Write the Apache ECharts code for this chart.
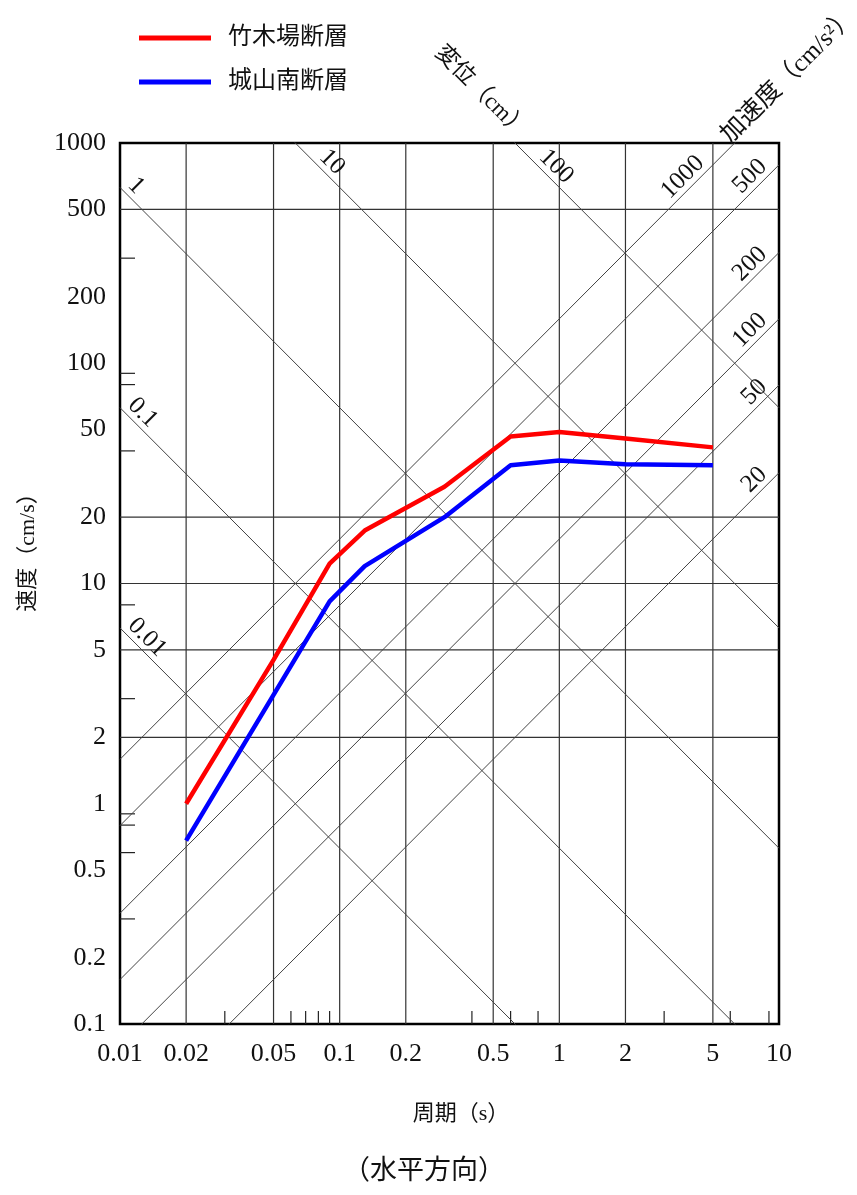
<!DOCTYPE html>
<html>
<head>
<meta charset="utf-8">
<script src="https://cdn.jsdelivr.net/npm/echarts@6/dist/echarts.min.js"></script>
<style>
  html, body { margin: 0; padding: 0; background: #fff; }
  #chart { width: 857px; height: 1195px; }
</style>
</head>
<body>
<div id="chart"></div>
<script>
// Period axis (s)
const periodLabels = [0.01, 0.02, 0.05, 0.1, 0.2, 0.5, 1, 2, 5, 10];
const periodGridLines = [0.02, 0.05, 0.1, 0.2, 0.5, 1, 2, 5];
const periodMinorTicks = [0.03, 0.06, 0.07, 0.08, 0.09, 0.4, 0.6, 0.8, 3, 6, 9];

// Velocity axis (cm/s)
const velocityLabels = [1000, 500, 200, 100, 50, 20, 10, 5, 2, 1, 0.5, 0.2, 0.1];
const velocityGridLines = [500, 20, 10, 5, 2];
const velocityMinorTicks = [300, 90, 80, 40, 8, 3, 0.9, 0.8, 0.6, 0.3];

// Diagonal scales of the tripartite chart
const displacementLines = [0.01, 0.1, 1, 10, 100];        // cm
const accelerationLines = [20, 50, 100, 200, 500, 1000];  // cm/s^2

// Velocity response spectra
const takekibaPeriods  = [0.02, 0.05, 0.09, 0.13, 0.3, 0.6, 1.0, 2.0, 5.0];
const takekibaVelocity = [1.0, 4.5, 12.3, 17.4, 27.5, 46.5, 48.7, 45.5, 41.5];
const jozanPeriods  = [0.02, 0.09, 0.13, 0.3, 0.6, 1.0, 2.0, 5.0];
const jozanVelocity = [0.68, 8.3, 12.0, 20.0, 34.4, 36.2, 34.8, 34.4];

const T_MIN = 0.01, T_MAX = 10, V_MIN = 0.1, V_MAX = 1000;
const TWO_PI = 2 * Math.PI;
const FONT_FAMILY = "'Liberation Serif', 'Noto Sans CJK JP', serif";
const LABEL_FONT = "26px " + FONT_FAMILY;
const DIAG_FONT = "25px " + FONT_FAMILY;
const INK = '#111';

function textEl(x, y, text, font, align, vAlign, rotation) {
  return {
    type: 'text', x: x, y: y, rotation: rotation || 0,
    style: {
      text: text, x: 0, y: 0, font: font, fill: INK,
      align: align, verticalAlign: vAlign,
      textAlign: align, textVerticalAlign: vAlign
    }
  };
}

function lineEl(p1, p2, stroke, width) {
  return {
    type: 'line',
    shape: { x1: p1[0], y1: p1[1], x2: p2[0], y2: p2[1] },
    style: { stroke: stroke, lineWidth: width }
  };
}

// Grid lines, inner ticks and axis labels, placed through the axis scales
function renderFrame(params, api) {
  const children = [];
  periodGridLines.forEach(function (t) {
    children.push(lineEl(api.coord([t, V_MAX]), api.coord([t, V_MIN]), '#333', 1.2));
  });
  velocityGridLines.forEach(function (v) {
    children.push(lineEl(api.coord([T_MIN, v]), api.coord([T_MAX, v]), '#333', 1.2));
  });
  periodMinorTicks.forEach(function (t) {
    const p = api.coord([t, V_MIN]);
    children.push(lineEl(p, [p[0], p[1] - 13], '#222', 1.2));
  });
  velocityMinorTicks.forEach(function (v) {
    const p = api.coord([T_MIN, v]);
    children.push(lineEl(p, [p[0] + 15, p[1]], '#222', 1.2));
  });
  periodLabels.forEach(function (t) {
    const p = api.coord([t, V_MIN]);
    children.push(textEl(p[0], p[1] + 30, String(t), LABEL_FONT, 'center', 'middle'));
  });
  velocityLabels.forEach(function (v) {
    const p = api.coord([T_MIN, v]);
    children.push(textEl(p[0] - 14, p[1], String(v), LABEL_FONT, 'right', 'middle'));
  });
  return { type: 'group', children: children };
}

// Labels of the displacement and acceleration lines
function renderDiagonalLabels(params, api) {
  const children = [];
  const r = Math.SQRT1_2;
  displacementLines.forEach(function (d) {
    const vLeft = TWO_PI * d / T_MIN;
    let p, shift;
    if (vLeft <= V_MAX) { p = api.coord([T_MIN, vLeft]); shift = 4; }
    else { p = api.coord([TWO_PI * d / V_MAX, V_MAX]); shift = 27; }
    children.push(textEl(p[0] + shift * r, p[1] + shift * r, String(d),
      DIAG_FONT, 'left', 'bottom', -Math.PI / 4));
  });
  accelerationLines.forEach(function (a) {
    const vRight = a * T_MAX / TWO_PI;
    let p, shift;
    if (vRight <= V_MAX) { p = api.coord([T_MAX, vRight]); shift = 10; }
    else { p = api.coord([TWO_PI * V_MAX / a, V_MAX]); shift = 36; }
    children.push(textEl(p[0] - shift * r, p[1] + shift * r, String(a),
      DIAG_FONT, 'right', 'bottom', Math.PI / 4));
  });
  return { type: 'group', children: children };
}

const diagonalStyle = { color: '#444', width: 1 };
const diagonalSeries = [];
displacementLines.forEach(function (d) {
  diagonalSeries.push({
    type: 'line', silent: true, symbol: 'none', clip: true, z: 2,
    lineStyle: diagonalStyle,
    data: [[T_MIN, TWO_PI * d / T_MIN], [T_MAX, TWO_PI * d / T_MAX]]
  });
});
accelerationLines.forEach(function (a) {
  diagonalSeries.push({
    type: 'line', silent: true, symbol: 'none', clip: true, z: 2,
    lineStyle: diagonalStyle,
    data: [[T_MIN, a * T_MIN / TWO_PI], [T_MAX, a * T_MAX / TWO_PI]]
  });
});

function pairs(xs, ys) { return xs.map(function (x, i) { return [x, ys[i]]; }); }

const chart = echarts.init(document.getElementById('chart'), null, { renderer: 'canvas' });
chart.setOption({
  animation: false,
  backgroundColor: '#fff',
  grid: {
    left: 120, top: 143, width: 659, height: 881,
    show: true, borderColor: '#000', borderWidth: 2.5, backgroundColor: 'transparent'
  },
  legend: {
    data: ['竹木場断層', '城山南断層'],
    orient: 'vertical', left: 139, top: 26, padding: 0,
    itemWidth: 72, itemHeight: 5, itemGap: 20, icon: 'rect',
    textStyle: { fontSize: 24, fontFamily: FONT_FAMILY, color: INK, padding: [0, 0, 0, 12] }
  },
  xAxis: {
    type: 'log', logBase: 10, min: T_MIN, max: T_MAX,
    axisLine: { show: false }, axisTick: { show: false },
    axisLabel: { show: false }, splitLine: { show: false }, minorSplitLine: { show: false }
  },
  yAxis: {
    type: 'log', logBase: 10, min: V_MIN, max: V_MAX,
    axisLine: { show: false }, axisTick: { show: false },
    axisLabel: { show: false }, splitLine: { show: false }, minorSplitLine: { show: false }
  },
  graphic: [
    textEl(28, 547, '速度（cm/s）', '22px ' + FONT_FAMILY, 'center', 'middle', Math.PI / 2),
    textEl(461, 1114, '周期（s）', '22px ' + FONT_FAMILY, 'center', 'middle'),
    textEl(424, 1172, '（水平方向）', '27px ' + FONT_FAMILY, 'center', 'middle'),
    textEl(481, 92, '変位（cm）', '23px ' + FONT_FAMILY, 'center', 'middle', -Math.PI / 4),
    textEl(789, 76, '加速度（cm/s²）', '25px ' + FONT_FAMILY, 'center', 'middle', Math.PI / 4)
  ],
  series: [
    { type: 'custom', silent: true, z: 1, data: [[1, 1]], renderItem: renderFrame },
    { type: 'custom', silent: true, z: 3, data: [[1, 1]], renderItem: renderDiagonalLabels }
  ].concat(diagonalSeries).concat([
    {
      name: '竹木場断層', type: 'line', symbol: 'none', z: 10,
      itemStyle: { color: '#ff0000' },
      lineStyle: { color: '#ff0000', width: 4.5 },
      data: pairs(takekibaPeriods, takekibaVelocity)
    },
    {
      name: '城山南断層', type: 'line', symbol: 'none', z: 10,
      itemStyle: { color: '#0000ff' },
      lineStyle: { color: '#0000ff', width: 4.5 },
      data: pairs(jozanPeriods, jozanVelocity)
    }
  ])
});
</script>
</body>
</html>
